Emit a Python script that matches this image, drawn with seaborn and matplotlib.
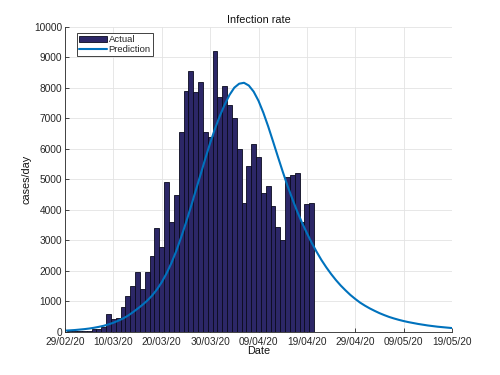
import matplotlib
matplotlib.use("Agg")

import matplotlib.pyplot as plt
from matplotlib.lines import Line2D
from matplotlib.patches import Patch
import seaborn as sns

# ── data (day 0 = 29/02/20) ────────────────────────────────────────────────
bar_days = list(range(1, 52))
actual_cases = [
    20, 20, 30, 40, 30, 110, 100, 160, 580, 425,
    470, 830, 1180, 1490, 1960, 1410, 1960, 2500, 3400, 2800,
    4930, 3620, 4490, 6570, 7910, 8570, 7860, 8180, 6550, 6390,
    9220, 7720, 8080, 7440, 7000, 6000, 4240, 5440, 6160, 5730,
    4550, 4800, 4130, 3450, 3000, 5070, 5150, 5220, 3620, 4190,
    4240,
]

pred_days = list(range(0, 81))
predicted_cases = [
    40, 50, 60, 75, 90, 110, 135, 165, 200, 245,
    300, 365, 440, 530, 640, 760, 885, 1025, 1190, 1390,
    1630, 1920, 2260, 2650, 3100, 3580, 4090, 4620, 5150, 5680,
    6190, 6660, 7080, 7450, 7770, 8010, 8140, 8170, 8080, 7880,
    7580, 7190, 6740, 6250, 5750, 5260, 4790, 4360, 3950, 3580,
    3240, 2920, 2630, 2360, 2120, 1900, 1700, 1520, 1360, 1210,
    1080, 960, 860, 770, 690, 615, 550, 490, 440, 395,
    355, 320, 290, 260, 235, 210, 190, 170, 155, 140,
    125,
]

tick_days = [0, 10, 20, 30, 40, 50, 60, 70, 80]
tick_labels = ["29/02/20", "10/03/20", "20/03/20", "30/03/20", "09/04/20",
               "19/04/20", "29/04/20", "09/05/20", "19/05/20"]

BAR_COLOR = "#2c2767"
LINE_COLOR = "#0072BD"

sns.set_theme(style="white")
plt.rcParams["font.family"] = ["Liberation Sans", "DejaVu Sans"]

fig = plt.figure(figsize=(5, 3.75), dpi=100)
ax = fig.add_axes([0.13, 0.115, 0.774, 0.813])

sns.barplot(x=bar_days, y=actual_cases, native_scale=True, width=1.0,
            color=BAR_COLOR, saturation=1, edgecolor="#0a0a1e",
            linewidth=0.6, errorbar=None, ax=ax)
sns.lineplot(x=pred_days, y=predicted_cases, color=LINE_COLOR,
             linewidth=1.5, ax=ax)

ax.set_xlim(0, 80)
ax.set_ylim(0, 10000)
ax.set_xticks(tick_days)
ax.set_xticklabels(tick_labels)
ax.set_yticks(range(0, 10001, 1000))
ax.grid(True, color="#e3e3e3", linewidth=0.6)
ax.set_axisbelow(True)

for side in ("top", "right"):
    ax.spines[side].set_visible(False)
for side in ("left", "bottom"):
    ax.spines[side].set_color("#262626")
    ax.spines[side].set_linewidth(0.6)
ax.tick_params(direction="in", length=3, width=0.6, labelsize=7.3,
               colors="#262626", left=True, bottom=True)
ax.tick_params(axis="x", pad=4)
ax.tick_params(axis="y", pad=2)

ax.set_title("Infection rate", fontsize=7.8, pad=3, color="#111111")
ax.set_xlabel("Date", fontsize=7.8, labelpad=-1, color="#111111")
ax.set_ylabel("cases/day", fontsize=7.8, labelpad=2, color="#111111")

handles = [
    Patch(facecolor=BAR_COLOR, edgecolor="#0a0a1e", linewidth=0.6),
    Line2D([0], [0], color=LINE_COLOR, linewidth=1.5),
]
leg = ax.legend(handles, ["Actual", "Prediction"], loc="upper left",
                bbox_to_anchor=(0.031, 0.98), fontsize=6.8, frameon=True,
                fancybox=False, edgecolor="#222222", framealpha=1,
                borderpad=0.25, handlelength=2.9, handleheight=0.6,
                handletextpad=0.2, labelspacing=0.05, borderaxespad=0)
leg.get_frame().set_linewidth(0.6)

fig.savefig("out.png", dpi=100)
plt.close(fig)
